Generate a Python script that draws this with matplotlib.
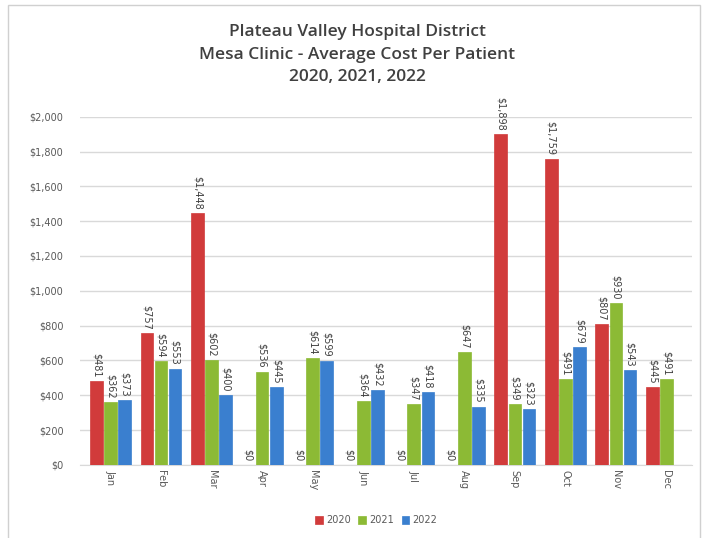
import numpy as np
import matplotlib
matplotlib.use("Agg")
import matplotlib.pyplot as plt
from matplotlib.patches import Rectangle
from matplotlib.ticker import FuncFormatter

# Chart data
months = ["Jan", "Feb", "Mar", "Apr", "May", "Jun",
          "Jul", "Aug", "Sep", "Oct", "Nov", "Dec"]
cost_2020 = [481, 757, 1448, 0, 0, 0, 0, 0, 1898, 1759, 807, 445]
cost_2021 = [362, 594, 602, 536, 614, 364, 347, 647, 349, 491, 930, 491]
cost_2022 = [373, 553, 400, 445, 599, 432, 418, 335, 323, 679, 543, None]
years = ["2020", "2021", "2022"]
colors = ["#d13b3b", "#8cba35", "#3a7fcf"]

fig = plt.figure(figsize=(7.03, 5.38), dpi=100)
ax = fig.add_axes([0.114, 0.136, 0.870, 0.647])

# Outer chart border
fig.patches.append(Rectangle((0.011, -0.01), 0.985, 1.0, transform=fig.transFigure,
                             fill=False, edgecolor="#d0d0d0", linewidth=1.0))

x = np.arange(len(months))
width = 0.25
offsets = [-0.28, 0.0, 0.28]
series = [cost_2020, cost_2021, cost_2022]

for vals, off, col, yr in zip(series, offsets, colors, years):
    xs = [xi + off for xi, v in zip(x, vals) if v is not None]
    vs = [v for v in vals if v is not None]
    bars = ax.bar(xs, vs, width, color=col, label=yr, edgecolor=col, linewidth=0.5, zorder=3)
    for b, v in zip(bars, vs):
        ax.text(b.get_x() + b.get_width() / 2, v + 20, "${:,}".format(v),
                rotation=270, ha="center", va="bottom", fontsize=7,
                color="#404040", zorder=4)

ax.set_ylim(0, 2000)
ax.set_xlim(-0.6, 11.5)
ax.set_yticks(np.arange(0, 2001, 200))
ax.yaxis.set_major_formatter(FuncFormatter(lambda v, p: "${:,.0f}".format(v)))
ax.set_xticks(x)
ax.set_xticklabels(months, rotation=270)
ax.tick_params(axis="both", length=0, labelsize=7, colors="#595959")
ax.tick_params(axis="y", pad=12)
ax.grid(axis="y", color="#d9d9d9", linewidth=1.0, zorder=0)
for s in ["top", "right", "left"]:
    ax.spines[s].set_visible(False)
ax.spines["bottom"].set_color("#d9d9d9")

fig.text(0.508, 0.898, "Plateau Valley Hospital District\nMesa Clinic - Average Cost Per Patient\n2020, 2021, 2022",
         ha="center", va="center", fontsize=12.5, fontweight="semibold", color="#404040",
         family="Open Sans", linespacing=1.55)

fig.legend(loc="center", bbox_to_anchor=(0.535, 0.033), ncol=3, frameon=False,
           fontsize=7, handlelength=0.8, handleheight=0.8, columnspacing=0.8,
           handletextpad=0.3, labelcolor="#595959")

fig.savefig("out.png", dpi=100)
